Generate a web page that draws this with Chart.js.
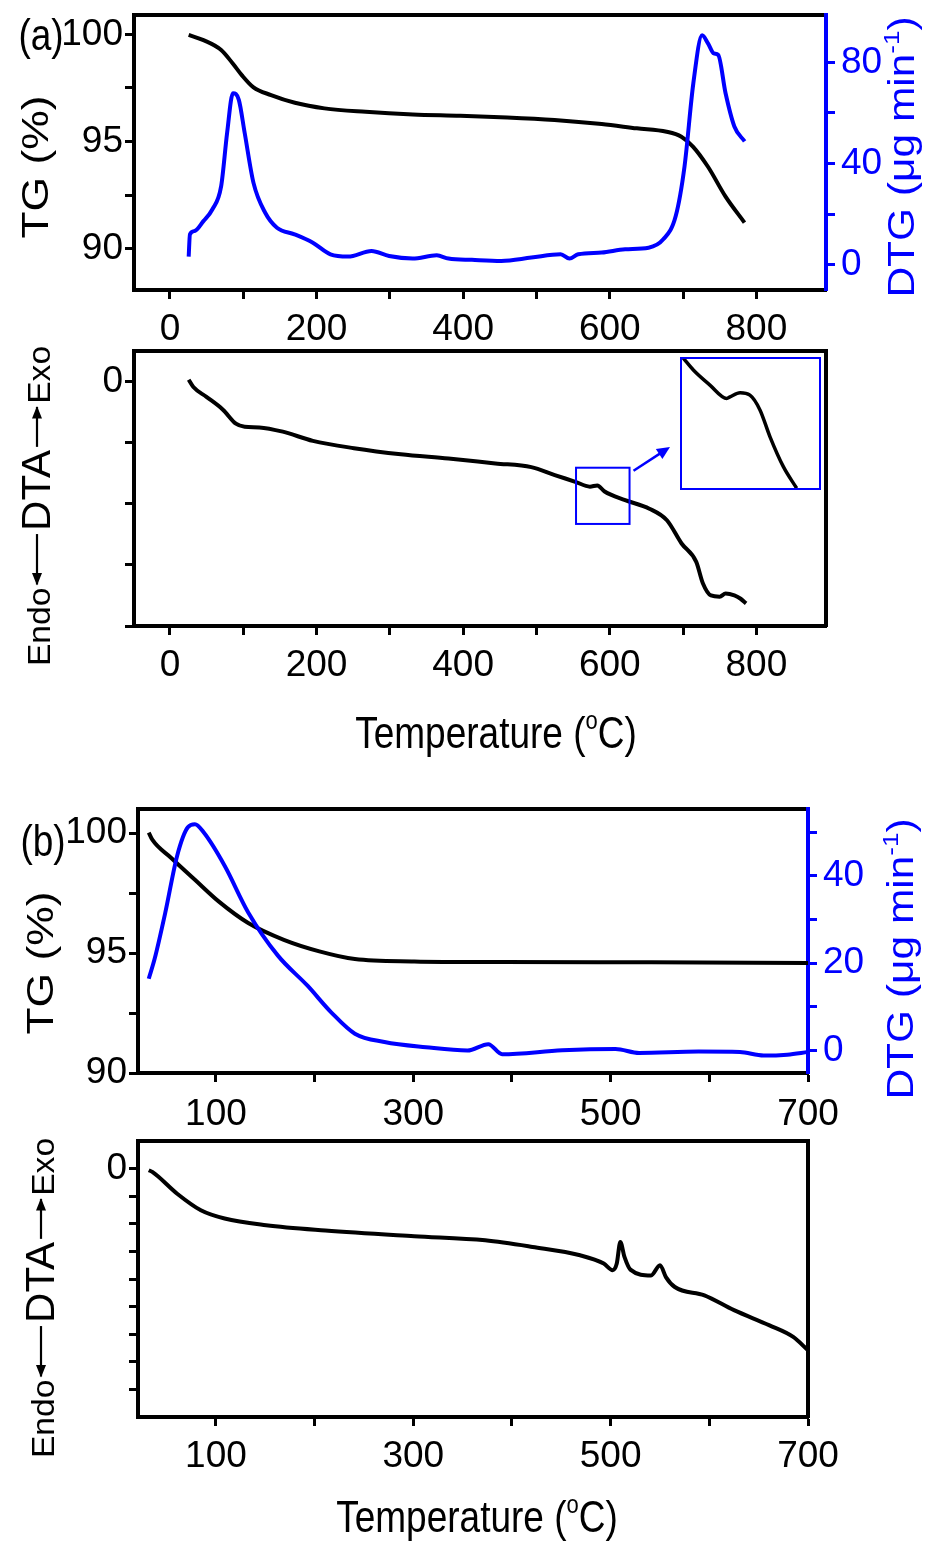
<!DOCTYPE html>
<html><head><meta charset="utf-8">
<script src="https://cdn.jsdelivr.net/npm/chart.js@4.4.1/dist/chart.umd.min.js"></script>
<style>
html,body{margin:0;padding:0;background:#fff;}
body{position:relative;width:927px;height:1542px;overflow:hidden;}
canvas{position:absolute;left:0;}
</style></head><body>
<canvas id="c1" width="927" height="350" style="top:0px"></canvas>
<canvas id="c2" width="927" height="430" style="top:340px"></canvas>
<canvas id="c3" width="927" height="370" style="top:770px"></canvas>
<canvas id="c4" width="927" height="412" style="top:1130px"></canvas>
<canvas id="ci" width="141" height="133" style="left:680px;top:357px"></canvas>
<script>
// ---------------- DATA ----------------
// Panel (a) TG
const tgA_T = [25.6, 45.7, 69.9, 86, 98, 114, 138, 170.5, 210.8, 267, 331.5, 396, 460, 524.7, 589, 637, 677.6, 697.7, 713.8, 734, 758, 783.8];
const tgA   = [99.97, 99.73, 99.27, 98.63, 98.1, 97.53, 97.17, 96.81, 96.55, 96.39, 96.27, 96.21, 96.13, 96.01, 95.82, 95.62, 95.46, 95.23, 94.76, 93.83, 92.44, 91.23];
// Panel (a) DTG
const dtgA_T = [25.6, 27.3, 33.7, 45.7, 57.8, 69.9, 78, 86, 94, 102, 114, 130, 146, 170, 195, 219, 243, 275, 299, 331, 364, 380, 412, 452, 493, 533, 545, 557, 589, 621, 653, 673, 690, 702, 714, 726, 734, 742, 748, 758, 770, 784];
const dtgA   = [3.3, 12.1, 13.4, 17.3, 21.9, 31.1, 52.1, 67.8, 65.2, 52.1, 32.4, 20.6, 14.7, 12.1, 8.8, 4.2, 3.3, 5.5, 3.5, 2.5, 3.8, 2.5, 2.0, 1.6, 2.9, 4.2, 2.5, 4.2, 4.9, 6.2, 6.8, 10.1, 19.3, 38.9, 71.7, 90.7, 87.5, 83.5, 82.9, 67.8, 54.7, 48.8];
// Panel (a) DTA
const dtaA_T = [25.6, 32, 49.8, 72.3, 90, 102, 122, 154, 195, 251, 315, 380, 444, 493, 525, 553, 573, 583, 593, 621, 654, 678, 698, 718, 727, 738, 750, 758, 770, 778, 786];
const dtaA   = [0.03, -0.09, -0.25, -0.46, -0.69, -0.74, -0.75, -0.82, -0.97, -1.09, -1.19, -1.26, -1.34, -1.40, -1.53, -1.64, -1.72, -1.70, -1.80, -1.94, -2.08, -2.27, -2.65, -2.95, -3.30, -3.50, -3.52, -3.47, -3.50, -3.55, -3.63];
// Panel (a) DTA inset (zoom of 554-627 C)
const insetT = [555.7, 560.9, 569.5, 578.2, 579.9, 585.1, 590.2, 595.4, 600.6, 607.5, 614.4];
const insetV = [-1.504, -1.544, -1.595, -1.640, -1.635, -1.621, -1.629, -1.679, -1.770, -1.871, -1.944];
const zoomBox = [554, 627, -1.41, -2.33];
// Panel (b) TG
const tgB_T = [31.9, 35.5, 54.7, 78.7, 102.7, 132.7, 168.8, 204.8, 240.8, 300.9, 391, 541, 700];
const tgB   = [100.02, 99.72, 98.96, 98.05, 97.15, 96.25, 95.55, 95.07, 94.75, 94.65, 94.62, 94.61, 94.58];
// Panel (b) DTG
const dtgB_T = [31.9, 37.8, 48.7, 60.7, 71.5, 78.7, 87.7, 108.8, 132.7, 162.8, 192.8, 216.8, 240.8, 270.8, 312.9, 354.9, 376, 390, 450.9, 504.9, 528.9, 589, 631, 655, 679, 700];
const dtgB   = [16.4, 20.9, 31.6, 44.6, 51.1, 51.8, 49.9, 42.3, 31.6, 21.7, 14.8, 8.7, 3.8, 1.9, 0.7, -0.05, 1.4, -0.9, 0.0, 0.3, -0.6, -0.3, -0.4, -1.2, -1.0, -0.4];
// Panel (b) DTA
const dtaB_T = [31.9, 35.5, 60.7, 84.7, 108.8, 150.8, 210.8, 300.9, 372.9, 420.9, 469, 493, 502, 506.2, 509.8, 514, 520, 541, 550, 556, 565, 595, 625, 661, 685, 700];
const dtaB   = [-0.06, -0.12, -0.91, -1.51, -1.81, -2.05, -2.24, -2.45, -2.60, -2.84, -3.14, -3.44, -3.68, -3.44, -2.66, -3.20, -3.66, -3.87, -3.50, -3.93, -4.29, -4.59, -5.13, -5.68, -6.10, -6.58];

// Tick values / labels
const xTicksA = [0, 100, 200, 300, 400, 500, 600, 700, 800];
const xLabelsA = [0, 200, 400, 600, 800];
const xTicksB = [100, 200, 300, 400, 500, 600, 700];
const xLabelsB = [100, 300, 500, 700];
const tgTicks = [90, 92.5, 95, 97.5, 100];
const tgLabels = [90, 95, 100];
const dtgTicksA = [0, 20, 40, 60, 80];
const dtgLabelsA = [0, 40, 80];
const dtgTicksB = [0, 10, 20, 30, 40, 50];
const dtgLabelsB = [0, 20, 40];
const dtaTicksA = [0, -1, -2, -3, -4];
const dtaTicksB = [0, -1, -2, -3, -4, -5, -6, -7, -8];
const dtaLabels = [0];

// ---------------- STYLE ----------------
const BLUE = '#0000ff', BLACK = '#000000';
function hasFont(n){
  const c = document.createElement('canvas').getContext('2d');
  const t = 'Temperature 0123456789';
  c.font = '40px monospace'; const a = c.measureText(t).width;
  c.font = '40px "' + n + '", monospace'; const b = c.measureText(t).width;
  return Math.abs(a - b) > 0.5;
}
const NARROW = hasFont('Liberation Sans Narrow');
const H = NARROW ? {fam:'"Liberation Sans Narrow", "Liberation Sans", Arial, sans-serif', size:44, sy:1}
                 : {fam:'"Liberation Sans", Arial, sans-serif', size:37, sy:1.2};
const RFAM = '"Liberation Sans", Arial, sans-serif';
Chart.defaults.animation = false;

function drawRun(ctx, cx, cy, rot, sx, sy, items, ref){
  ctx.save(); ctx.translate(cx, cy); if (rot) ctx.rotate(rot); ctx.scale(sx, sy);
  ctx.textAlign = 'left'; ctx.textBaseline = 'alphabetic';
  const ws = items.map(it => {
    if (it.arrow !== undefined) return it.arrow;
    ctx.font = (it.weight || 'normal') + ' ' + it.size + 'px ' + (it.fam || RFAM);
    return ctx.measureText(it.t).width;
  });
  const total = ws.reduce((a, b) => a + b, 0);
  let x = -total / 2; const base = 0.716 * ref / 2;
  items.forEach((it, i) => {
    const col = it.color || BLACK; ctx.fillStyle = col; ctx.strokeStyle = col;
    if (it.arrow !== undefined) {
      const x0 = x + 3, x1 = x + ws[i] - 3;
      ctx.lineWidth = 2.2; ctx.beginPath(); ctx.moveTo(x0, 0); ctx.lineTo(x1, 0); ctx.stroke();
      const hx = it.dir < 0 ? x0 : x1, d = it.dir < 0 ? 1 : -1;
      ctx.beginPath(); ctx.moveTo(hx - d, 0); ctx.lineTo(hx + d * 11, -5); ctx.lineTo(hx + d * 11, 5); ctx.closePath(); ctx.fill();
    } else {
      ctx.font = (it.weight || 'normal') + ' ' + it.size + 'px ' + (it.fam || RFAM);
      ctx.fillText(it.t, x, base - (it.rise || 0));
    }
    x += ws[i];
  });
  ctx.restore();
}

function axis(o){
  const col = o.color || BLACK;
  return {
    type: 'linear', position: o.pos, min: o.min, max: o.max, bounds: 'data',
    grid: {display: !!o.ticks, drawOnChartArea: false, drawTicks: true, tickLength: 9, tickWidth: 3, tickColor: col, color: col},
    border: {display: true, width: 4, color: col},
    ticks: {display: !!o.ticks, color: col, font: {family: H.fam, size: H.size}, padding: o.pad || 3,
      autoSkip: false, maxRotation: 0, minRotation: 0, includeBounds: false,
      callback: v => (o.labels && o.labels.some(l => Math.abs(l - v) < 1e-9)) ? String(v) : ''},
    afterBuildTicks: s => { if (o.ticks) s.ticks = o.ticks.map(v => ({value: v})); },
    afterFit: s => {
      if (s.isHorizontal()) s.height = o.box; else s.width = o.box;
      s.paddingTop = 0; s.paddingBottom = 0; s.paddingLeft = 0; s.paddingRight = 0;
    }
  };
}
function series(xs, ys, color, yId, w){
  return {data: xs.map((x, i) => ({x: x, y: ys[i]})), borderColor: color, backgroundColor: color,
    borderWidth: w || 4, pointRadius: 0, fill: false, cubicInterpolationMode: 'monotone',
    xAxisID: 'x', yAxisID: yId};
}
const baseOpts = {responsive: false, maintainAspectRatio: false, devicePixelRatio: 1,
  layout: {padding: 0, autoPadding: false}, plugins: {legend: {display: false}, tooltip: {enabled: false}}};

function dtaLabel(ctx, cx, cy){
  drawRun(ctx, cx, cy, -Math.PI / 2, 1.05, 1, [
    {t: 'Endo', size: 32},
    {arrow: 54, dir: -1},
    {t: 'DTA', size: 40},
    {arrow: 44, dir: 1},
    {t: 'Exo', size: 32}
  ], 36);
}
function tempLabel(ctx, cx, cy){
  drawRun(ctx, cx, cy, 0, 1, H.sy, [
    {t: 'Temperature (', size: H.size, fam: H.fam},
    {t: 'o', size: Math.round(H.size * 0.6), fam: H.fam, rise: H.size * 0.42},
    {t: 'C)', size: H.size, fam: H.fam}
  ], H.size);
}
function dtgLabel(ctx, cx, cy){
  drawRun(ctx, cx, cy, -Math.PI / 2, 1.18, 1, [
    {t: 'DTG (\u03bcg min', size: 36, color: BLUE},
    {t: '-1', size: 22, rise: 15, color: BLUE},
    {t: ')', size: 36, color: BLUE}
  ], 36);
}

// ---------------- PANEL 1 ----------------
new Chart(document.getElementById('c1'), {
  type: 'line',
  data: {datasets: [series(dtgA_T, dtgA, BLUE, 'y2'), series(tgA_T, tgA, BLACK, 'y')]},
  options: Object.assign({}, baseOpts, {
    scales: {
      x: axis({pos: 'bottom', min: -49, max: 895, ticks: xTicksA, labels: xLabelsA, box: 60, pad: 9}),
      xt: axis({pos: 'top', min: -49, max: 895, box: 15}),
      y: axis({pos: 'left', min: 88.09, max: 100.9, ticks: tgTicks, labels: tgLabels, box: 134, pad: 2}),
      y2: axis({pos: 'right', min: -9.9, max: 98.7, ticks: dtgTicksA, labels: dtgLabelsA, color: BLUE, box: 101, pad: 6})
    }
  }),
  plugins: [{id: 'deco1', afterDraw(ch){
    const c = ch.ctx;
    drawRun(c, 41, ch.scales.y.getPixelForValue(100), 0, 1, H.sy, [{t: '(a)', size: H.size, fam: H.fam}], H.size);
    drawRun(c, 35, 167, -Math.PI / 2, 1.2, 1, [{t: 'TG (%)', size: 37}], 37);
    dtgLabel(c, 901, 157);
  }}]
});

// ---------------- PANEL 2 ----------------
new Chart(document.getElementById('c2'), {
  type: 'line',
  data: {datasets: [series(dtaA_T, dtaA, BLACK, 'y')]},
  options: Object.assign({}, baseOpts, {
    scales: {
      x: axis({pos: 'bottom', min: -49, max: 895, ticks: xTicksA, labels: xLabelsA, box: 144, pad: 9}),
      xt: axis({pos: 'top', min: -49, max: 895, box: 11}),
      y: axis({pos: 'left', min: -4, max: 0.5, ticks: dtaTicksA, labels: dtaLabels, box: 134, pad: 2}),
      y2: axis({pos: 'right', min: -4, max: 0.5, box: 101})
    }
  }),
  plugins: [{id: 'deco2', afterDraw(ch){
    const c = ch.ctx, sx = ch.scales.x, sy = ch.scales.y;
    const bx0 = sx.getPixelForValue(zoomBox[0]), bx1 = sx.getPixelForValue(zoomBox[1]);
    const by0 = sy.getPixelForValue(zoomBox[2]), by1 = sy.getPixelForValue(zoomBox[3]);
    c.save();
    c.strokeStyle = BLUE; c.fillStyle = BLUE; c.lineWidth = 2;
    c.strokeRect(bx0, by0, bx1 - bx0, by1 - by0);
    const ax0 = bx1 + 4, ay0 = by0 + 3, ax1 = 670, ay1 = 107;
    const ang = Math.atan2(ay1 - ay0, ax1 - ax0);
    c.lineWidth = 2.5;
    c.beginPath(); c.moveTo(ax0, ay0); c.lineTo(ax1 - 8 * Math.cos(ang), ay1 - 8 * Math.sin(ang)); c.stroke();
    c.beginPath(); c.moveTo(ax1, ay1);
    c.lineTo(ax1 - 13 * Math.cos(ang) + 6 * Math.sin(ang), ay1 - 13 * Math.sin(ang) - 6 * Math.cos(ang));
    c.lineTo(ax1 - 13 * Math.cos(ang) - 6 * Math.sin(ang), ay1 - 13 * Math.sin(ang) + 6 * Math.cos(ang));
    c.closePath(); c.fill();
    c.restore();
    dtaLabel(c, 37, 166);
    tempLabel(c, 496, 392);
  }}]
});

// ---------------- INSET ----------------
new Chart(document.getElementById('ci'), {
  type: 'line',
  data: {datasets: [series(insetT, insetV, BLACK, 'y', 3.5)]},
  options: Object.assign({}, baseOpts, {
    scales: {
      x: {type: 'linear', display: false, min: zoomBox[0], max: zoomBox[1]},
      y: {type: 'linear', display: false, min: -1.95, max: -1.50}
    }
  }),
  plugins: [{id: 'insetBox', afterDraw(ch){
    const c = ch.ctx; c.save(); c.strokeStyle = BLUE; c.lineWidth = 2;
    c.strokeRect(1, 1, ch.width - 2, ch.height - 2); c.restore();
  }}]
});

// ---------------- PANEL 3 ----------------
new Chart(document.getElementById('c3'), {
  type: 'line',
  data: {datasets: [series(dtgB_T, dtgB, BLUE, 'y2'), series(tgB_T, tgB, BLACK, 'y')]},
  options: Object.assign({}, baseOpts, {
    scales: {
      x: axis({pos: 'bottom', min: 21, max: 700, ticks: xTicksB, labels: xLabelsB, box: 67, pad: 11}),
      xt: axis({pos: 'top', min: 21, max: 700, box: 39}),
      y: axis({pos: 'left', min: 90, max: 101, ticks: tgTicks, labels: tgLabels, box: 138, pad: 2}),
      y2: axis({pos: 'right', min: -5.2, max: 55.3, ticks: dtgTicksB, labels: dtgLabelsB, color: BLUE, box: 119, pad: 6})
    }
  }),
  plugins: [{id: 'deco3', afterDraw(ch){
    const c = ch.ctx;
    drawRun(c, 43, ch.scales.y.getPixelForValue(100) + 7, 0, 1, H.sy, [{t: '(b)', size: H.size, fam: H.fam}], H.size);
    drawRun(c, 40, 193, -Math.PI / 2, 1.2, 1, [{t: 'TG (%)', size: 37}], 37);
    dtgLabel(c, 900, 189);
  }}]
});

// ---------------- PANEL 4 ----------------
new Chart(document.getElementById('c4'), {
  type: 'line',
  data: {datasets: [series(dtaB_T, dtaB, BLACK, 'y')]},
  options: Object.assign({}, baseOpts, {
    scales: {
      x: axis({pos: 'bottom', min: 21, max: 700, ticks: xTicksB, labels: xLabelsB, box: 125, pad: 9}),
      xt: axis({pos: 'top', min: 21, max: 700, box: 11}),
      y: axis({pos: 'left', min: -9, max: 1, ticks: dtaTicksB, labels: dtaLabels, box: 138, pad: 2}),
      y2: axis({pos: 'right', min: -9, max: 1, box: 119})
    }
  }),
  plugins: [{id: 'deco4', afterDraw(ch){
    const c = ch.ctx;
    dtaLabel(c, 41, 168);
    tempLabel(c, 477, 386);
  }}]
});
</script></body></html>
